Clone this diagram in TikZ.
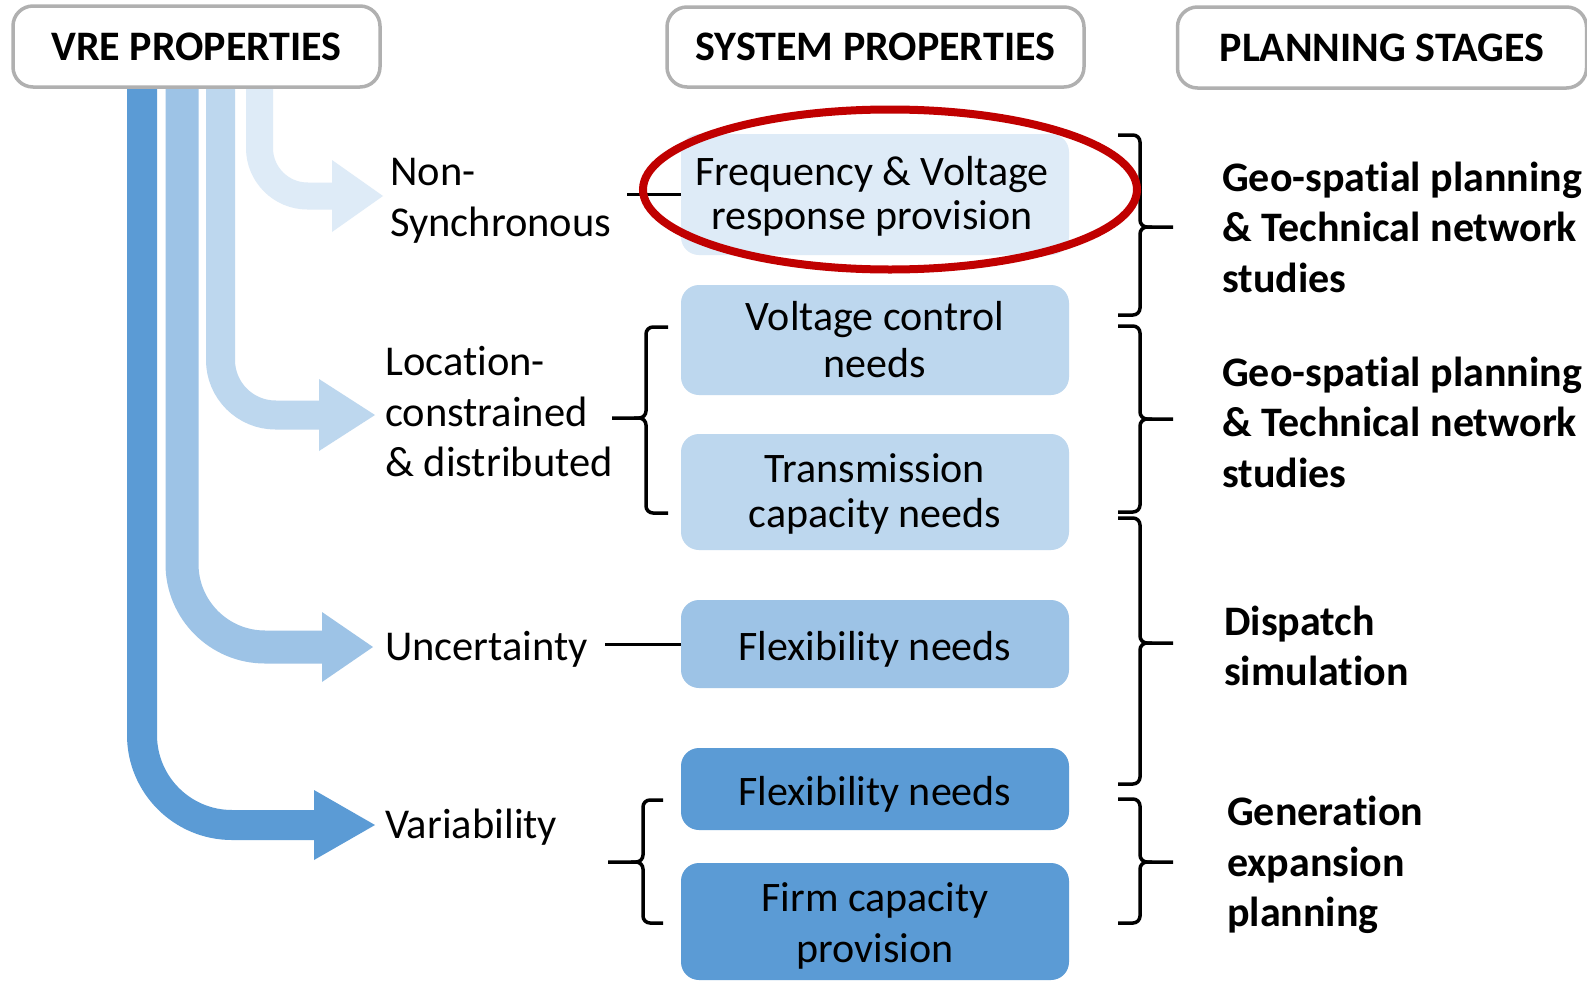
\documentclass[tikz,border=0pt]{standalone}
\usepackage{fontspec}
\setmainfont{Carlito}[Ligatures={NoCommon}]
\definecolor{bA}{HTML}{5B9BD5}
\definecolor{bB}{HTML}{9DC3E6}
\definecolor{bC}{HTML}{BDD7EE}
\definecolor{bD}{HTML}{DEEBF7}
\definecolor{ringred}{HTML}{C00000}
\definecolor{hdrgray}{HTML}{B0B0B0}
\begin{document}
\begin{tikzpicture}[x=1pt,y=-1pt,
  hdr/.style={draw=hdrgray, line width=3.5pt, rounded corners=20pt, fill=white, inner sep=0pt, font=\fontsize{42}{46}\selectfont\bfseries},
  sysbox/.style={rounded corners=18pt, inner sep=0pt, minimum width=388pt},
  boxtxt/.style={inner sep=0pt, align=center, font=\fontsize{42}{#1}\selectfont},
  boxtxt/.default=45,
  lbl/.style={anchor=west, inner sep=0pt, align=left, font=\fontsize{42.5}{50.5}\selectfont},
  stage/.style={anchor=west, inner sep=0pt, align=left, font=\fontsize{42}{50.5}\selectfont\bfseries},
  link/.style={line width=3pt},
  brk/.style={line width=3.5pt, rounded corners=7pt},
]
\useasboundingbox (0,0) rectangle (1587,985);
\fill[white] (0,0) rectangle (1587,985);

% bands (VRE property arrows)
\coordinate (b1s) at (142,80);  \coordinate (b1e) at (316,825);
\coordinate (b2s) at (182,80);  \coordinate (b2e) at (324,647);
\coordinate (b3s) at (220.5,80);\coordinate (b3e) at (321,415);
\coordinate (b4s) at (259.5,80);\coordinate (b4e) at (334,196);

\draw[bA, line width=30pt, rounded corners=90pt] (b1s) -- (b1s |- b1e) -- (b1e);
\fill[bA] (314,790) -- (375,825) -- (314,860) -- cycle;
\draw[bB, line width=33pt, rounded corners=83pt] (b2s) -- (b2s |- b2e) -- (b2e);
\fill[bB] (322,612) -- (373,647) -- (322,682) -- cycle;
\draw[bC, line width=29pt, rounded corners=55pt] (b3s) -- (b3s |- b3e) -- (b3e);
\fill[bC] (319,379) -- (375,415) -- (319,451) -- cycle;
\draw[bD, line width=27pt, rounded corners=48pt] (b4s) -- (b4s |- b4e) -- (b4e);
\fill[bD] (332,160) -- (383,196) -- (332,232) -- cycle;

% headers
\node[hdr, minimum width=367pt, minimum height=81pt] (vre) at (196.5,46.5) {VRE PROPERTIES};
\node[hdr, minimum width=417pt, minimum height=80pt] (sys) at (875.5,47) {SYSTEM PROPERTIES};
\node[hdr, minimum width=409pt, minimum height=81pt] (plan) at (1382,47.5) {PLANNING STAGES};

% system property boxes
\node[sysbox, fill=bD, minimum height=121pt] (freq) at (875,194.5) {};
\node[sysbox, fill=bC, minimum height=110pt] (volt) at (875,340) {};
\node[sysbox, fill=bC, minimum height=116pt] (trans) at (875,492) {};
\node[sysbox, fill=bB, minimum height=88pt] (flexa) at (875,644) {};
\node[sysbox, fill=bA, minimum height=82pt] (flexb) at (875,789) {};
\node[sysbox, fill=bA, minimum height=117pt] (firm) at (875,921.5) {};

\node[boxtxt=44] (freqt) at (872,196.5) {Frequency \& Voltage\\response provision};
\node[boxtxt=47] (voltt) at (875,340) {Voltage control\\needs};
\node[boxtxt=45] (transt) at (875,493.5) {Transmission\\capacity needs};
\node[boxtxt] (flexat) at (875,649) {Flexibility needs};
\node[boxtxt] (flexbt) at (875,794) {Flexibility needs};
\node[boxtxt=51] (firmt) at (875,926) {Firm capacity\\provision};

% VRE property labels
\node[lbl] (nonsync) at (390,201) {Non-\\Synchronous};
\node[lbl] (loc) at (385,412) {Location-\\constrained\\\& distributed};
\node[lbl] (unc) at (385,649) {Uncertainty};
\node[lbl] (var) at (385,827) {Variability};

% links
\draw[link] (freq.west) -- ++(-54,0);
\draw[link] (flexa.west) -- ++(-76,0);

% left brackets
\draw[brk] (668,327) -- (646,327) -- (646,418) -- (612,418);
\draw[brk] (634,418) -- (646,418) -- (646,513) -- (668,513);
\draw[brk] (663,800) -- (643,800) -- (643,862) -- (608,862);
\draw[brk] (631,862) -- (643,862) -- (643,923) -- (663,923);

% right brackets
\draw[brk] (1118,135) -- (1140,135) -- (1140,227) -- (1173,227);
\draw[brk] (1152,227) -- (1140,227) -- (1140,315) -- (1118,315);
\draw[brk] (1118,326) -- (1140,326) -- (1140,419) -- (1173,419);
\draw[brk] (1152,419) -- (1140,419) -- (1140,512) -- (1118,512);
\draw[brk] (1118,518) -- (1140,518) -- (1140,643) -- (1173,643);
\draw[brk] (1152,643) -- (1140,643) -- (1140,784) -- (1118,784);
\draw[brk] (1118,799) -- (1140,799) -- (1140,862) -- (1173,862);
\draw[brk] (1152,862) -- (1140,862) -- (1140,923) -- (1118,923);

% red ring
\draw[ringred, line width=8pt] (890,189.5) ellipse [x radius=247pt, y radius=80pt];

% planning stages
\node[stage] (st1) at (1222,227) {Geo-spatial planning\\\& Technical network\\studies};
\node[stage] (st2) at (1222,422) {Geo-spatial planning\\\& Technical network\\studies};
\node[stage] (st3) at (1224,646) {Dispatch\\simulation};
\node[stage] (st4) at (1227,865) {Generation\\expansion\\planning};
\end{tikzpicture}
\end{document}
